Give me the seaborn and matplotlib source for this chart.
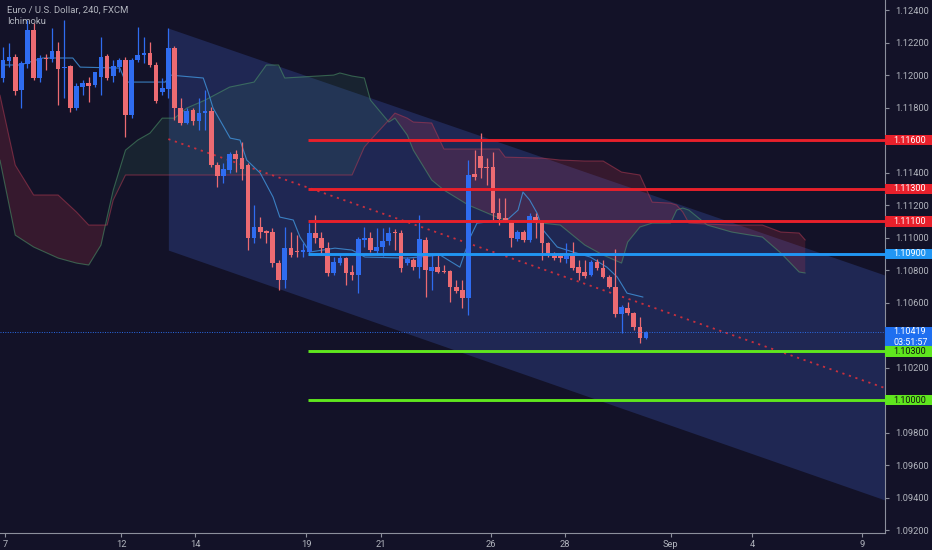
"""
EUR/USD 4h chart with Ichimoku cloud, a falling channel and key levels,
styled like a dark TradingView screenshot.
"""

import matplotlib
matplotlib.use('Agg')  # no display
import matplotlib.pyplot as plt
import matplotlib.transforms as mtransforms
from matplotlib.patches import Rectangle
from matplotlib.ticker import MultipleLocator, FuncFormatter
import numpy as np
import seaborn as sns

# --- candles (one per 4h bar, oldest first) ---------------------------------
opens = [1.11982, 1.12087, 1.12111, 1.11908, 1.12068, 1.12277, 1.11982, 1.12105, 1.12099, 1.12148,
         1.12044, 1.12056, 1.11797, 1.11927, 1.11951, 1.11939, 1.11988, 1.12117, 1.11994, 1.12050,
         1.12093, 1.11754, 1.12093, 1.12124, 1.12136, 1.12062, 1.11896, 1.11914, 1.12167, 1.11797,
         1.11705, 1.11785, 1.11717, 1.11767, 1.11779, 1.11447, 1.11379, 1.11416, 1.11514, 1.11490,
         1.11447, 1.10997, 1.11065, 1.11040, 1.11034, 1.10844, 1.10739, 1.10936, 1.10917, 1.10911,
         1.10911, 1.11028, 1.10997, 1.10936, 1.10782, 1.10844, 1.10874, 1.10788, 1.10770, 1.10985,
         1.10997, 1.10917, 1.10942, 1.10979, 1.11034, 1.11028, 1.10844, 1.10862, 1.10819, 1.10985,
         1.10794, 1.10819, 1.10794, 1.10794, 1.10696, 1.10677, 1.10628, 1.11391, 1.11502, 1.11434,
         1.11434, 1.11151, 1.11120, 1.11096, 1.10991, 1.11034, 1.10985, 1.11127, 1.11090, 1.10967,
         1.10899, 1.10887, 1.10868, 1.10887, 1.10819, 1.10788, 1.10770, 1.10850, 1.10813, 1.10757,
         1.10696, 1.10530, 1.10567, 1.10536, 1.10450, 1.10382]
highs = [1.12173, 1.12197, 1.12130, 1.12087, 1.12339, 1.12320, 1.12124, 1.12130, 1.12290, 1.12204,
         1.12339, 1.12062, 1.11951, 1.11970, 1.11988, 1.12019, 1.12234, 1.12130, 1.12093, 1.12105,
         1.12111, 1.12105, 1.12296, 1.12234, 1.12204, 1.12080, 1.11982, 1.12290, 1.12179, 1.11859,
         1.11797, 1.11797, 1.11859, 1.11908, 1.11804, 1.11465, 1.11459, 1.11527, 1.11539, 1.11588,
         1.11459, 1.11200, 1.11127, 1.11047, 1.11059, 1.10862, 1.11065, 1.11034, 1.11016, 1.10967,
         1.11090, 1.11139, 1.11034, 1.10973, 1.10880, 1.10893, 1.10880, 1.10831, 1.11004, 1.11065,
         1.11034, 1.11059, 1.11059, 1.11065, 1.11053, 1.11047, 1.10880, 1.10874, 1.11139, 1.11004,
         1.10905, 1.10893, 1.10831, 1.10800, 1.10739, 1.10739, 1.11477, 1.11539, 1.11644, 1.11490,
         1.11527, 1.11244, 1.11244, 1.11108, 1.11047, 1.11047, 1.11151, 1.11151, 1.11096, 1.10973,
         1.10911, 1.10905, 1.10967, 1.10973, 1.10862, 1.10862, 1.10862, 1.10868, 1.10862, 1.10770,
         1.10930, 1.10585, 1.10604, 1.10542, 1.10511, 1.10425]
lows = [1.11957, 1.12050, 1.11877, 1.11797, 1.12044, 1.11970, 1.11957, 1.12031, 1.12080, 1.11816,
        1.11859, 1.11773, 1.11785, 1.11877, 1.11834, 1.11927, 1.11877, 1.11970, 1.11957, 1.12019,
        1.11619, 1.11736, 1.12080, 1.12074, 1.12050, 1.11828, 1.11877, 1.11859, 1.11724, 1.11693,
        1.11699, 1.11693, 1.11662, 1.11662, 1.11434, 1.11311, 1.11336, 1.11397, 1.11404, 1.11354,
        1.10924, 1.10967, 1.10997, 1.10967, 1.10819, 1.10677, 1.10690, 1.10880, 1.10880, 1.10880,
        1.10893, 1.10967, 1.10905, 1.10764, 1.10770, 1.10831, 1.10708, 1.10739, 1.10659, 1.10942,
        1.10911, 1.10893, 1.10887, 1.10954, 1.10924, 1.10788, 1.10831, 1.10800, 1.10751, 1.10634,
        1.10677, 1.10782, 1.10782, 1.10604, 1.10659, 1.10567, 1.10524, 1.11354, 1.11367, 1.11324,
        1.11108, 1.11077, 1.11096, 1.10942, 1.10979, 1.10973, 1.10973, 1.10997, 1.10862, 1.10880,
        1.10862, 1.10850, 1.10844, 1.10800, 1.10739, 1.10751, 1.10764, 1.10800, 1.10751, 1.10690,
        1.10511, 1.10413, 1.10524, 1.10431, 1.10351, 1.10376]
closes = [1.12093, 1.12111, 1.11902, 1.12074, 1.12277, 1.11982, 1.12105, 1.12099, 1.12148, 1.12037,
          1.12050, 1.11797, 1.11933, 1.11951, 1.11933, 1.12019, 1.12111, 1.11982, 1.12056, 1.12093,
          1.11754, 1.12093, 1.12124, 1.12136, 1.12062, 1.11840, 1.11920, 1.12167, 1.11797, 1.11705,
          1.11779, 1.11717, 1.11767, 1.11779, 1.11447, 1.11379, 1.11422, 1.11514, 1.11484, 1.11422,
          1.10997, 1.11065, 1.11034, 1.11028, 1.10844, 1.10739, 1.10936, 1.10893, 1.10911, 1.10924,
          1.11028, 1.10997, 1.10936, 1.10782, 1.10850, 1.10874, 1.10782, 1.10770, 1.10991, 1.10997,
          1.10924, 1.10942, 1.10979, 1.11028, 1.11028, 1.10813, 1.10868, 1.10819, 1.10991, 1.10800,
          1.10819, 1.10788, 1.10788, 1.10696, 1.10671, 1.10628, 1.11385, 1.11373, 1.11428, 1.11428,
          1.11151, 1.11114, 1.11108, 1.10997, 1.11034, 1.10985, 1.11133, 1.11090, 1.10967, 1.10905,
          1.10874, 1.10874, 1.10887, 1.10813, 1.10782, 1.10764, 1.10850, 1.10813, 1.10757, 1.10696,
          1.10530, 1.10573, 1.10536, 1.10450, 1.10382, 1.10419]

# --- Ichimoku ---------------------------------------------------------------
tenkan_bar = [0, 2.8, 6.5, 11.4, 12.6, 19.1, 20, 26.5, 27.3, 32.7, 33.5, 34.3, 37.1, 38.7,
              39.8, 42, 44.1, 45.2, 47.4, 48.5, 50.1, 54.2, 57, 59.1, 66.1, 71.4, 74.6,
              76.3, 77.4, 82.3, 84.1, 84.9, 86, 87.2, 88.2, 90.5, 93.1, 95.9, 98.6,
              100.3, 101.9, 104.5]
tenkan = [1.12062, 1.12062, 1.12105, 1.12105, 1.12049, 1.12043, 1.11957, 1.11957, 1.12000,
          1.11982, 1.11895, 1.11797, 1.11612, 1.11600, 1.11477, 1.11397, 1.11249, 1.11126,
          1.11108, 1.11003, 1.10911, 1.10935, 1.10923, 1.10880, 1.10874, 1.10892, 1.10818,
          1.11003, 1.11089, 1.11108, 1.11169, 1.11280, 1.11231, 1.11151, 1.11046, 1.10942,
          1.10911, 1.10880, 1.10818, 1.10757, 1.10658, 1.10634]

cloud_bar = [-0.5, 2, 5, 9, 12, 14, 16, 17, 18, 20, 22, 24, 26, 28, 30, 33, 37, 41, 43, 45,
             46, 54, 55, 57, 59, 60, 63, 64, 66, 67, 70, 72, 76, 81, 82, 88, 91, 95, 98,
             101, 102, 104, 106, 109, 110, 111, 112, 115, 119, 124, 127, 130, 131]
span_a = [1.11477, 1.11015, 1.10942, 1.10874, 1.10843, 1.10831, 1.10954, 1.11126, 1.11292,
          1.11538, 1.11600, 1.11643, 1.11735, 1.11735, 1.11797, 1.11846, 1.11926, 1.11957,
          1.12062, 1.12062, 1.11982, 1.12000, 1.12013, 1.11994, 1.11982, 1.11846, 1.11711,
          1.11735, 1.11631, 1.11538, 1.11354, 1.11292, 1.11200, 1.11120, 1.11108, 1.11089,
          1.11077, 1.10954, 1.10892, 1.10843, 1.10972, 1.11065, 1.11089, 1.11089, 1.11169,
          1.11182, 1.11169, 1.11077, 1.11034, 1.11003, 1.10905, 1.10788, 1.10782]
span_b = [1.11877, 1.11446, 1.11262, 1.11262, 1.11157, 1.11077, 1.11077, 1.11077, 1.11231,
          1.11385, 1.11385, 1.11385, 1.11385, 1.11385, 1.11385, 1.11385, 1.11385, 1.11385,
          1.11385, 1.11385, 1.11385, 1.11385, 1.11385, 1.11385, 1.11557, 1.11600, 1.11723,
          1.11766, 1.11735, 1.11711, 1.11705, 1.11545, 1.11545, 1.11545, 1.11495, 1.11489,
          1.11477, 1.11471, 1.11471, 1.11403, 1.11397, 1.11385, 1.11218, 1.11212, 1.11200,
          1.11157, 1.11089, 1.11083, 1.11077, 1.11077, 1.11034, 1.11028, 1.10985]

# --- drawings ---------------------------------------------------------------
channel_bar = [27, 144.02]
channel_top = [1.12289, 1.10769]
channel_mid = [1.11606, 1.10074]
channel_bottom = [1.10923, 1.09385]

level_start = 49.8
levels = [1.11600, 1.11300, 1.11100, 1.10900, 1.10300, 1.10000]
level_labels = ['1.11600', '1.11300', '1.11100', '1.10900', '1.10300', '1.10000']
level_colors = ['#e8202b', '#e8202b', '#e8202b', '#2196f3', '#5fe61e', '#5fe61e']
level_text = ['white', 'white', 'white', 'white', '#101010', '#101010']

last_price = 1.10419
countdown = '03:51:57'

day_labels = ['7', '12', '14', '19', '21', '26', '28', 'Sep', '4', '9']
day_ticks = [0.3, 19.3, 31.4, 49.5, 61.7, 79.7, 91.8, 109.0, 122.3, 140.3]

# --- style ------------------------------------------------------------------
BG = '#131228'
UP = '#2f6cf0'
DOWN = '#ec6b72'
AXIS = '#8c8f9c'
TEXT = '#b2b5be'

sns.set_theme(style='dark', rc={'axes.facecolor': BG, 'figure.facecolor': BG})
plt.rcParams['font.family'] = ['Roboto', 'DejaVu Sans']

fig = plt.figure(figsize=(9.32, 5.5), dpi=100)
ax = fig.add_axes([0, 17 / 550, 885 / 932, 533 / 550])
ax.set_facecolor(BG)
ax.grid(False)

# channel
ax.fill_between(channel_bar, channel_top, channel_bottom, color='#1f2753', lw=0, zorder=1)
sns.lineplot(x=channel_bar, y=channel_mid, ax=ax, color='#c8303e', lw=1.3,
             linestyle=(0, (1.2, 2.6)), zorder=3)

# cloud
a = np.array(span_a)
b = np.array(span_b)
ax.fill_between(cloud_bar, a, b, where=a >= b, interpolate=True,
                color=(0.25, 0.62, 0.42), alpha=0.12, lw=0, zorder=2)
ax.fill_between(cloud_bar, a, b, where=a < b, interpolate=True,
                color=(0.90, 0.24, 0.30), alpha=0.17, lw=0, zorder=2)
sns.lineplot(x=cloud_bar, y=span_a, ax=ax, color='#4f9a6a', lw=0.8, alpha=0.55, zorder=2)
sns.lineplot(x=cloud_bar, y=span_b, ax=ax, color='#b03a52', lw=0.8, alpha=0.55, zorder=2)
sns.lineplot(x=tenkan_bar, y=tenkan, ax=ax, color='#3f8fd6', lw=0.8, alpha=0.85, zorder=3)

# candles
bars = np.arange(len(opens))
o = np.array(opens)
c = np.array(closes)
colors = np.where(c >= o, UP, DOWN)
body_low = np.minimum(o, c)
body_h = np.maximum(np.abs(c - o), 0.00007)
ax.vlines(bars, lows, highs, colors=colors, lw=0.9, zorder=4)
ax.bar(bars, body_h, bottom=body_low, width=0.76, color=colors, lw=0, zorder=4)

# horizontal levels
for lvl, col in zip(levels, level_colors):
    ax.hlines(lvl, level_start, channel_bar[1], colors=col, lw=2.1, zorder=5)
ax.axhline(last_price, color='#2a6ce8', lw=0.7, linestyle=(0, (1, 1.5)), zorder=5)

ax.set_xlim(-0.49, 144.02)
ax.set_ylim(1.09182, 1.12462)

# axes
for side in ('top', 'left'):
    ax.spines[side].set_visible(False)
for side in ('right', 'bottom'):
    ax.spines[side].set_visible(True)
    ax.spines[side].set_color(AXIS)
    ax.spines[side].set_linewidth(0.8)

# tick labels hidden behind the coloured price tags are not drawn
covered = levels + [1.104]


def price_fmt(v, pos):
    if any(abs(v - cv) < 1e-6 for cv in covered):
        return ''
    return f'{v:.5f}'


ax.yaxis.tick_right()
ax.yaxis.set_major_locator(MultipleLocator(0.002))
ax.yaxis.set_major_formatter(FuncFormatter(price_fmt))
ax.tick_params(axis='y', direction='out', length=3, width=0.8, color=AXIS,
               labelcolor=TEXT, labelsize=6.7, pad=4.5, right=True, left=False)
ax.set_xticks(day_ticks, labels=day_labels)
ax.tick_params(axis='x', direction='out', length=3, width=0.8, color=AXIS,
               labelcolor=TEXT, labelsize=6.7, pad=2, bottom=True)

# price labels on the axis
trans = mtransforms.blended_transform_factory(ax.transAxes, ax.transData)
px = 1 / 16250  # price per pixel
box_w = 47 / 885
box_h = 10.5 * px


def price_tag(y, text, face, fg):
    ax.add_patch(Rectangle((1.0, y - box_h / 2), box_w, box_h, transform=trans,
                           facecolor=face, edgecolor='none', clip_on=False, zorder=10))
    ax.text(1.0 + 8 / 885, y, text, transform=trans, ha='left', va='center',
            fontsize=6.5, color=fg, clip_on=False, zorder=11)


price_tag(last_price, f'{last_price:.5f}', '#1e6ff0', 'white')
price_tag(last_price - 10.5 * px, countdown, '#1e6ff0', 'white')
for lvl, lab, col, fg in zip(levels, level_labels, level_colors, level_text):
    price_tag(lvl, lab, col, fg)

fig.text(7 / 932, 1 - 10 / 550, 'Euro / U.S. Dollar, 240, FXCM', color=TEXT,
         fontsize=6.8, va='center', ha='left')
fig.text(7 / 932, 1 - 21 / 550, 'Ichimoku', color=TEXT, fontsize=6.8, va='center', ha='left')

fig.savefig('out.png', dpi=100, facecolor=BG)
plt.close(fig)
